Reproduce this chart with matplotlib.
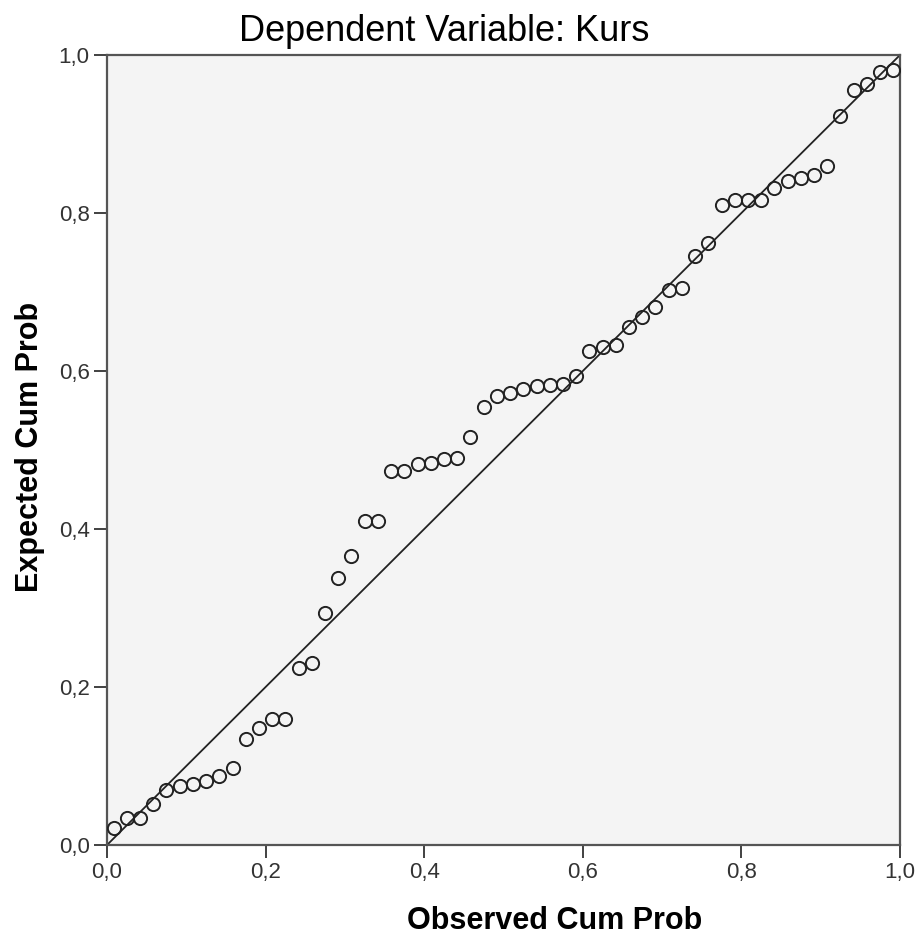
import numpy as np
import matplotlib
matplotlib.use("Agg")
import matplotlib.pyplot as plt
from matplotlib.ticker import FuncFormatter

plt.rcParams['font.family'] = ['Liberation Sans', 'DejaVu Sans']

# observed cum prob: 60 cases, midpoints of rank intervals
n = 60
observed = (np.arange(1, n + 1) - 0.5) / n

expected = [0.022, 0.034, 0.034, 0.052, 0.070, 0.075, 0.077, 0.081, 0.087, 0.098,
            0.134, 0.148, 0.160, 0.160, 0.224, 0.230, 0.294, 0.338, 0.366, 0.410,
            0.410, 0.473, 0.473, 0.482, 0.484, 0.489, 0.490, 0.516, 0.554, 0.568,
            0.572, 0.577, 0.581, 0.582, 0.584, 0.594, 0.625, 0.630, 0.633, 0.656,
            0.668, 0.681, 0.703, 0.705, 0.746, 0.762, 0.810, 0.816, 0.816, 0.816,
            0.832, 0.841, 0.844, 0.848, 0.859, 0.923, 0.956, 0.963, 0.979, 0.981]

ticks = [0.0, 0.2, 0.4, 0.6, 0.8, 1.0]

fig = plt.figure(figsize=(9.16, 9.36), dpi=100)
ax = fig.add_axes([0.1168, 0.0972, 0.8657, 0.8440])
ax.set_facecolor('#f4f4f4')

ax.plot([0, 1], [0, 1], color='#222222', linewidth=1.3, zorder=2)
ax.plot(observed, expected, linestyle='none', marker='o', markersize=9.5,
        markerfacecolor='none', markeredgecolor='#222222', markeredgewidth=1.4, zorder=3)

ax.set_xlim(0, 1)
ax.set_ylim(0, 1)
ax.set_xticks(ticks)
ax.set_yticks(ticks)
fmt = FuncFormatter(lambda v, p: ('%.1f' % v).replace('.', ','))
ax.xaxis.set_major_formatter(fmt)
ax.yaxis.set_major_formatter(fmt)
ax.tick_params(direction='out', length=9.5, width=1.3, color='#333333',
               labelsize=16, labelcolor='#333333', pad=3)

for s in ax.spines.values():
    s.set_color('#555555')
    s.set_linewidth(1.6)

ax.set_title('Dependent Variable: Kurs', fontsize=26, pad=10, x=0.4256)
ax.set_xlabel('Observed Cum Prob', fontsize=22, fontweight='bold', labelpad=16, x=0.564)
ax.set_ylabel('Expected Cum Prob', fontsize=22, fontweight='bold', labelpad=10, y=0.5044)

plt.savefig('out.png', dpi=100)
